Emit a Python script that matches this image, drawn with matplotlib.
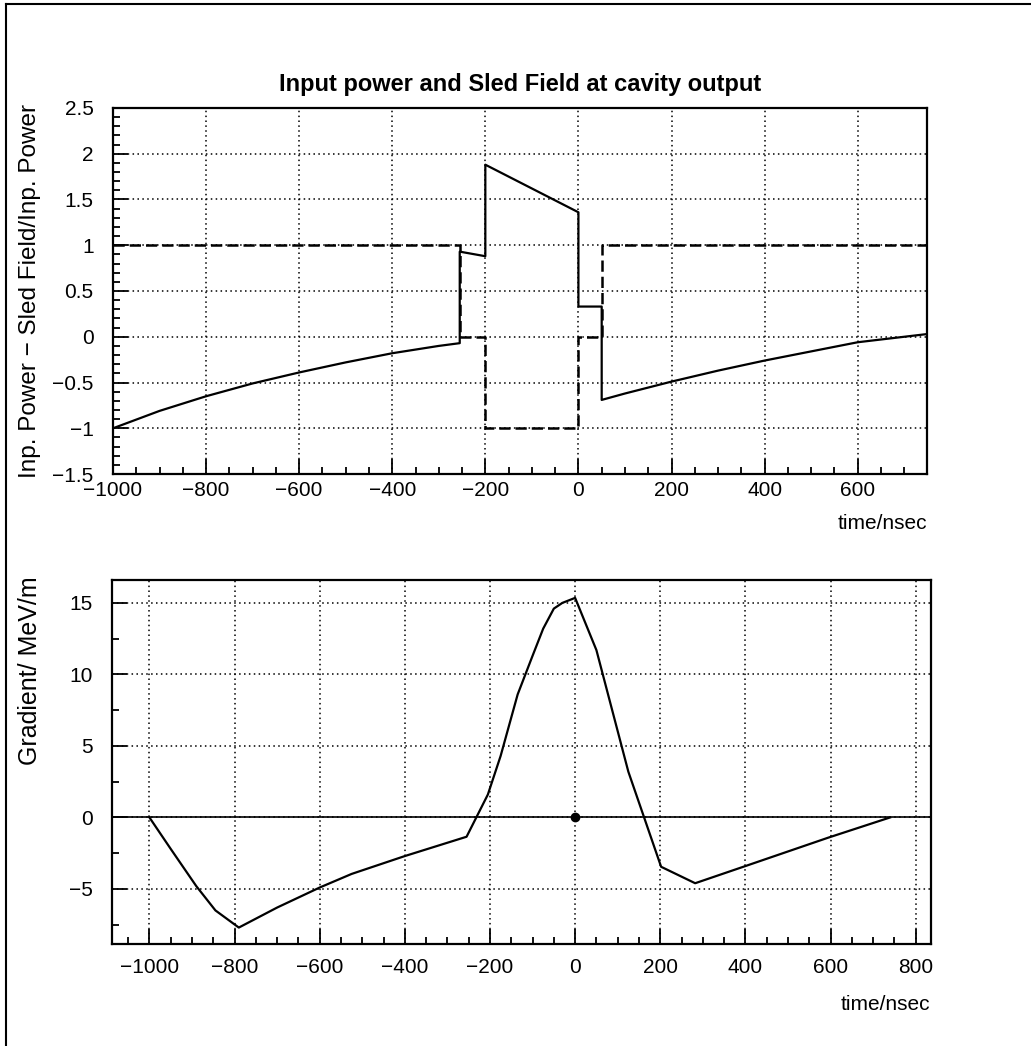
import numpy as np
import matplotlib
matplotlib.use('Agg')
import matplotlib.pyplot as plt
from matplotlib.ticker import MultipleLocator
from matplotlib.lines import Line2D

plt.rcParams['font.family'] = ['Liberation Sans', 'DejaVu Sans']

# top panel: input power (dashed) and sled field at cavity output (solid)
t_power = [-1000, -255, -255, -200, -200, 0, 0, 50, 50, 750]
power = [1, 1, 0, 0, -1, -1, 0, 0, 1, 1]

t_sled = [-1000, -900, -800, -700, -600, -500, -400, -300, -255, -255, -200, -200,
          -100, 0, 0, 50, 50, 100, 200, 300, 400, 500, 600, 750]
sled = [-1.0, -0.81, -0.65, -0.51, -0.39, -0.28, -0.18, -0.10, -0.07, 0.93, 0.88, 1.88,
        1.62, 1.36, 0.33, 0.33, -0.69, -0.62, -0.49, -0.37, -0.26, -0.16, -0.06, 0.03]

# bottom panel: gradient
t_grad = [-1000, -950, -890, -845, -790, -700, -600, -525, -400, -255, -205, -175,
          -135, -100, -75, -50, -30, 0, 50, 125, 202, 282, 400, 594, 740]
grad = [0, -2.2, -4.8, -6.5, -7.7, -6.3, -4.9, -3.95, -2.7, -1.35, 1.6, 4.3,
        8.6, 11.3, 13.2, 14.6, 15.0, 15.35, 11.7, 3.2, -3.45, -4.6, -3.4, -1.42, 0]

top_xticks = [-1000, -800, -600, -400, -200, 0, 200, 400, 600]
top_yticks = [-1.5, -1, -0.5, 0, 0.5, 1, 1.5, 2, 2.5]
bot_xticks = [-1000, -800, -600, -400, -200, 0, 200, 400, 600, 800]
bot_yticks = [-5, 0, 5, 10, 15]


def fmt(v):
    s = ('%g' % v)
    return s.replace('-', '\u2212')


def style_axes(ax, xt, yt, xminor, yminor, xpad):
    ax.set_xticks(xt)
    ax.set_yticks(yt)
    ax.set_xticklabels([fmt(v) for v in xt])
    ax.set_yticklabels([fmt(v) for v in yt])
    ax.xaxis.set_minor_locator(MultipleLocator(xminor))
    ax.yaxis.set_minor_locator(MultipleLocator(yminor))
    ax.tick_params(which='both', direction='in', top=False, right=False,
                   labelsize=15, width=1.3, colors='black')
    ax.tick_params(which='major', length=11)
    ax.tick_params(which='minor', length=5)
    ax.tick_params(axis='y', pad=14)
    ax.tick_params(axis='x', pad=xpad)
    for sp in ax.spines.values():
        sp.set_linewidth(1.6)
    ax.grid(True, which='major', color='black', linestyle=(0, (1, 2.2)), linewidth=1.1)


fig = plt.figure(figsize=(10.31, 10.46), dpi=100)

ax1 = fig.add_axes([0.1096, 0.5468, 0.790, 0.350])
ax1.plot(t_power, power, color='black', linewidth=1.8, linestyle=(0, (4.5, 2)))
ax1.plot(t_sled, sled, color='black', linewidth=1.6)
ax1.set_xlim(-1000, 750)
ax1.set_ylim(-1.5, 2.5)
style_axes(ax1, top_xticks, top_yticks, 50, 0.1, 5)
ax1.set_title('Input power and Sled Field at cavity output', fontsize=17,
              fontweight='bold', pad=12)
ax1.set_ylabel('Inp. Power \u2212 Sled Field/Inp. Power', fontsize=17.5)
ax1.yaxis.set_label_coords(-0.088, 0.5)
ax1.text(1.0, -0.11, 'time/nsec', transform=ax1.transAxes, ha='right', va='top', fontsize=15)

ax2 = fig.add_axes([0.1086, 0.0975, 0.794, 0.348])
ax2.axhline(0, color='black', linewidth=1.2)
ax2.plot(t_grad, grad, color='black', linewidth=1.6)
ax2.plot([0], [0], 'o', color='black', markersize=6)
ax2.set_xlim(-1088, 835)
ax2.set_ylim(-8.85, 16.6)
style_axes(ax2, bot_xticks, bot_yticks, 50, 2.5, 10)
ax2.set_ylabel('Gradient/ MeV/m', fontsize=18)
ax2.yaxis.set_label_coords(-0.085, 0.75)
ax2.text(1.0, -0.14, 'time/nsec', transform=ax2.transAxes, ha='right', va='top', fontsize=15)

# page frame (left and top edges of the scanned sheet)
fig.add_artist(Line2D([0.006, 0.006], [0.0, 0.996], color='black', linewidth=1.5))
fig.add_artist(Line2D([0.006, 1.0], [0.996, 0.996], color='black', linewidth=1.5))

fig.savefig('out.png', dpi=100)
